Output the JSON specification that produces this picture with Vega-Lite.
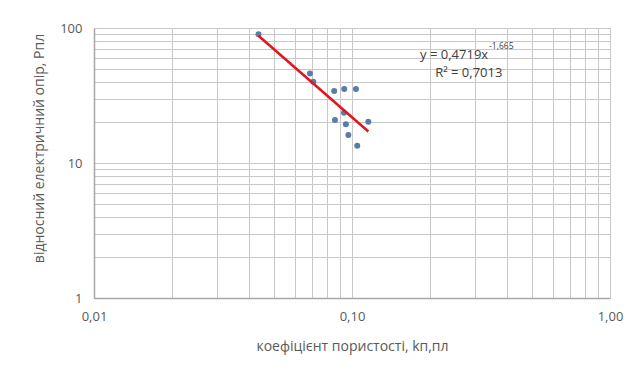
{
  "$schema": "https://vega.github.io/schema/vega-lite/v6.json",
  "width": 516,
  "height": 270,
  "autosize": {"type": "none"},
  "padding": {"left": 94, "top": 28, "right": 23, "bottom": 72},
  "background": "white",
  "config": {
    "font": "Open Sans",
    "view": {"stroke": null},
    "axis": {
      "labelFont": "Open Sans",
      "titleFont": "Open Sans",
      "labelColor": "#595959",
      "titleColor": "#595959",
      "labelFontSize": 13,
      "titleFontSize": 14,
      "titleFontWeight": "normal",
      "gridColor": "#c8c8c8",
      "gridWidth": 1,
      "gridOpacity": 1,
      "domainColor": "#a6a6a6",
      "domainWidth": 1.5,
      "ticks": false,
      "tickSize": 0,
      "labelFlush": false
    }
  },
  "datasets": {
    "samples": [
      {"kp": 0.0434, "rp": 89.8},
      {"kp": 0.0687, "rp": 46.1},
      {"kp": 0.0708, "rp": 40.0},
      {"kp": 0.0853, "rp": 34.1},
      {"kp": 0.0933, "rp": 35.3},
      {"kp": 0.1036, "rp": 35.3},
      {"kp": 0.0931, "rp": 23.6},
      {"kp": 0.0859, "rp": 20.8},
      {"kp": 0.0947, "rp": 19.4},
      {"kp": 0.1157, "rp": 20.2},
      {"kp": 0.0968, "rp": 16.1},
      {"kp": 0.1048, "rp": 13.4}
    ],
    "powerFit": [
      {"kp": 0.0434, "rp": 87.6},
      {"kp": 0.1157, "rp": 17.1}
    ],
    "fitText": [
      {"kp": 0.1836, "rp": 63.1, "txt": "y = 0,4719x", "size": 13},
      {"kp": 0.34, "rp": 73.5, "txt": "-1,665", "size": 8.5},
      {"kp": 0.21, "rp": 46.4, "txt": "R² = 0,7013", "size": 13}
    ]
  },
  "layer": [
    {
      "data": {"name": "samples"},
      "mark": {"type": "point", "filled": true, "shape": "circle", "size": 36, "color": "#5b7bab", "opacity": 1},
      "encoding": {
        "x": {
          "field": "kp",
          "type": "quantitative",
          "scale": {"type": "log", "domain": [0.01, 1], "nice": false},
          "axis": {
            "title": "коефіцієнт пористості, kп,пл",
            "values": [0.01, 0.02, 0.03, 0.04, 0.05, 0.06, 0.07, 0.08, 0.09, 0.1, 0.2, 0.3, 0.4, 0.5, 0.6, 0.7, 0.8, 0.9, 1],
            "labelExpr": "datum.value == 0.01 ? '0,01' : (abs(datum.value - 0.1) < 1e-9 ? '0,10' : (datum.value == 1 ? '1,00' : ''))",
            "labelPadding": 12,
            "labelBaseline": "top",
            "labelOverlap": false,
            "titleY": 48,
            "titleBaseline": "middle"
          }
        },
        "y": {
          "field": "rp",
          "type": "quantitative",
          "scale": {"type": "log", "domain": [1, 100], "nice": false},
          "axis": {
            "title": "відносний електричний опір, Рпл",
            "values": [1, 2, 3, 4, 5, 6, 7, 8, 9, 10, 20, 30, 40, 50, 60, 70, 80, 90, 100],
            "labelExpr": "datum.value == 1 ? '1' : (datum.value == 10 ? '10' : (datum.value == 100 ? '100' : ''))",
            "labelPadding": 12,
            "labelOverlap": false,
            "titleAngle": -90,
            "titleX": -55,
            "titleY": 120,
            "titleAlign": "center",
            "titleBaseline": "middle"
          }
        }
      }
    },
    {
      "data": {"name": "powerFit"},
      "mark": {"type": "line", "color": "#e3141b", "strokeWidth": 2.5},
      "encoding": {
        "x": {"field": "kp", "type": "quantitative"},
        "y": {"field": "rp", "type": "quantitative"}
      }
    },
    {
      "data": {"name": "fitText"},
      "mark": {"type": "text", "align": "left", "baseline": "middle", "color": "#404040", "font": "Open Sans"},
      "encoding": {
        "x": {"field": "kp", "type": "quantitative"},
        "y": {"field": "rp", "type": "quantitative"},
        "text": {"field": "txt"},
        "size": {"field": "size", "type": "quantitative", "scale": null}
      }
    }
  ]
}
